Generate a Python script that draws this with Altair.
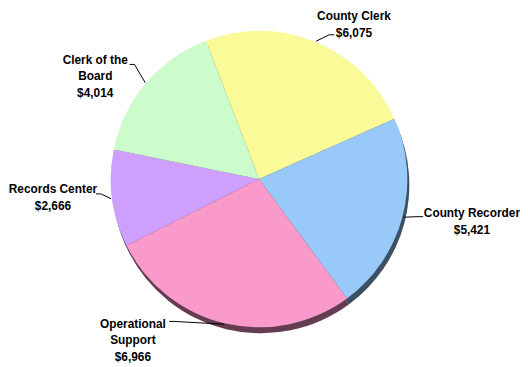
import math
import altair as alt
import pandas as pd

# ---- data ----
categories = ["County Clerk", "County Recorder", "Operational Support", "Records Center", "Clerk of the Board"]
label_names = ["County Clerk", "County Recorder", "Operational\nSupport", "Records Center", "Clerk of the\nBoard"]
values = [6075, 5421, 6966, 2666, 4014]
colors = ["#FBFA99", "#99C9F8", "#FA9ACB", "#CF9FFE", "#CCFCCC"]

# ---- layout / style ----
CX, CY, R = 254, 171, 150          # pie centre and radius (chart pixels)
RIM_DX, RIM_DY = 2, 6               # 3-D rim offset
START_DEG = -21                     # angle of first slice edge
LABEL_R = 170
label_offsets = {
    "County Clerk": (31, -8),
    "County Recorder": (51, -9),
    "Operational Support": (-88, -19),
    "Records Center": (-40, -12),
    "Clerk of the Board": (-36, -11),
}
# leader line elbow and end, next to each label (chart pixels)
leader_ends = {
    "County Clerk": ((325, 25), (330, 25)),
    "County Recorder": ((415, 209), (420, 209)),
    "Operational Support": ((168, 315), (163, 315)),
    "Records Center": ((94, 186), (89, 186)),
    "Clerk of the Board": ((128, 55), (123, 55)),
}
FONT = "Liberation Sans, Arial, sans-serif"

total = sum(values)
df = pd.DataFrame({
    "cat": categories,
    "value": values,
    "order": list(range(len(categories))),
    "label": [f"{n}\n${v:,}" for n, v in zip(label_names, values)],
})
df["mid"] = df["value"].cumsum() - df["value"] / 2

start = math.radians(START_DEG)
theta_scale = alt.Scale(domain=[0, total], range=[start, start + 2 * math.pi])
color_enc = alt.Color("cat:N", scale=alt.Scale(domain=categories, range=colors), legend=None)

# leader line points: start on the pie edge at each slice's middle angle
ang = start + df["mid"] / total * 2 * math.pi
df["x0"] = CX + (R + 1) * ang.map(math.sin)
df["y0"] = CY - (R + 1) * ang.map(math.cos)
df["x1"] = [leader_ends[c][0][0] for c in categories]
df["y1"] = [leader_ends[c][0][1] for c in categories]
df["x2"] = [leader_ends[c][1][0] for c in categories]
df["y2"] = [leader_ends[c][1][1] for c in categories]

base = alt.Chart(df)


def slices(cx, cy, color, opacity=1.0):
    return base.mark_arc(radius=R, opacity=opacity).encode(
        theta=alt.Theta("value:Q", stack=True, scale=theta_scale),
        order=alt.Order("order:Q"),
        color=color,
        x=alt.value(cx),
        y=alt.value(cy),
    )


rim = slices(CX + RIM_DX, CY + RIM_DY, color_enc)
rim_dark = slices(CX + RIM_DX, CY + RIM_DY, alt.value("black"), 0.6)
face = slices(CX, CY, color_enc)

leader1 = base.mark_rule(color="black", strokeWidth=1).encode(
    x=alt.X("x0:Q", scale=None), y=alt.Y("y0:Q", scale=None),
    x2="x1:Q", y2="y1:Q",
)
leader2 = base.mark_rule(color="black", strokeWidth=1).encode(
    x=alt.X("x1:Q", scale=None), y=alt.Y("y1:Q", scale=None),
    x2="x2:Q", y2="y2:Q",
)

texts = []
for cat in categories:
    dx, dy = label_offsets[cat]
    texts.append(
        base.transform_filter(alt.datum.cat == cat).mark_text(
            radius=LABEL_R, dx=dx, dy=dy, align="center", baseline="middle",
            lineBreak="\n", font=FONT, fontSize=12, fontWeight="bold",
            lineHeight=17, color="black",
        ).encode(
            theta=alt.Theta("mid:Q", stack=None, scale=theta_scale),
            text="label:N",
            x=alt.value(CX),
            y=alt.value(CY),
        )
    )

chart = alt.layer(rim, rim_dark, face, leader1, leader2, *texts).properties(
    width=512, height=351, autosize=alt.AutoSizeParams(type="none"),
    padding={"left": 0, "top": 0, "right": 6, "bottom": 6},
).configure_view(stroke=None)

chart.save("out.html", embed_options={"renderer": "svg", "actions": False})
